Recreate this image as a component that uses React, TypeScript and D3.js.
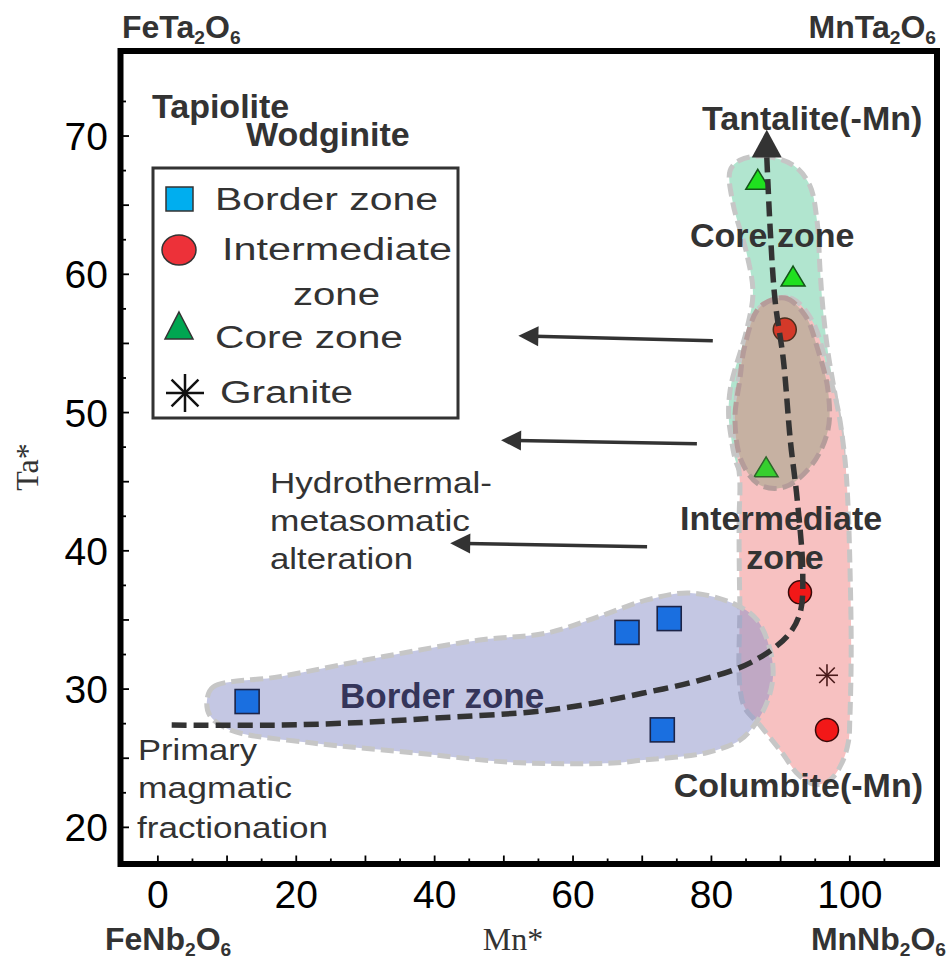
import React from "react";
import * as d3 from "d3";

// ---- chart data (Mn* = Mn/(Mn+Fe), Ta* = Ta/(Ta+Nb), atomic %) ----
const xTickLabels = [0, 20, 40, 60, 80, 100];
const yTickLabels = [20, 30, 40, 50, 60, 70];

const borderMn = [12.9, 67.8, 73.9, 72.9];
const borderTa = [29.1, 34.1, 35.1, 27.05];

const interMn = [90.6, 92.8, 96.7];
const interTa = [56.0, 37.0, 27.05];

const coreMn = [86.7, 91.8, 87.9];
const coreTa = [66.8, 59.8, 46.0];

const graniteMn = [96.7];
const graniteTa = [31.0];

// compositional fields (outline vertices, Mn*/Ta*)
const borderField: [number, number][] = [
  [7.1, 29.2], [8.0, 30.15], [17.6, 30.9], [32.1, 32.3], [46.5, 33.55], [56.2, 34.05],
  [63.5, 35.2], [70.7, 36.45], [76.9, 36.95], [83.1, 36.2], [86.6, 35.0], [88.5, 32.8],
  [88.9, 30.9], [88.0, 29.0], [86.0, 27.25], [84.1, 26.3], [79.3, 25.4], [69.7, 24.85],
  [65.8, 24.65], [51.3, 24.7], [36.9, 25.4], [22.4, 26.1], [10.4, 27.05], [7.5, 28.1],
];
const coreField: [number, number][] = [
  [84.1, 68.25], [87.4, 68.55], [91.8, 67.9], [94.2, 66.45], [95.25, 63.9], [95.7, 60.3],
  [96.1, 57.6], [96.8, 54.5], [98.0, 50.9], [99.0, 47.3], [98.6, 45.3], [92.8, 45.0],
  [84.9, 45.3], [82.7, 48.7], [82.7, 51.6], [85.1, 56.0], [86.0, 58.65], [85.1, 61.5],
  [83.1, 65.15], [82.7, 67.5],
];
const interField: [number, number][] = [
  [87.0, 57.6], [91.35, 58.3], [94.5, 56.7], [96.8, 53.1], [98.3, 50.2], [99.3, 46.6],
  [99.7, 43.7], [100.0, 39.3], [100.2, 32.8], [100.0, 27.8], [99.8, 26.2], [98.8, 24.6],
  [97.1, 23.4], [95.0, 23.1], [92.6, 23.8], [90.2, 25.4], [87.0, 27.4], [84.6, 28.9],
  [84.1, 36.4], [84.0, 42.2], [84.1, 45.1], [83.5, 48.0], [83.7, 51.6], [85.0, 54.9],
];
const overlapField: [number, number][] = [
  [87.0, 57.63], [90.6, 58.28], [93.5, 57.05], [95.4, 54.52], [96.84, 51.63], [96.84, 48.74],
  [94.5, 46.21], [90.6, 44.62], [87.0, 44.76], [84.4, 46.42], [83.4, 49.46], [84.1, 52.35],
  [84.85, 54.88],
];

// evolution trend: primary magmatic fractionation -> Ta enrichment
const trendMn = [2, 18, 30, 40, 54, 62, 70, 78, 85.6, 90.9, 92.8, 93.2, 92.4, 91.4, 90.4, 89.2, 88.5, 88.0];
const trendTa = [27.4, 27.4, 27.6, 27.9, 28.35, 28.9, 29.7, 30.6, 31.9, 33.8, 35.5, 38.4, 43.7, 48.0, 53.8, 58.1, 63.2, 68.5];
const trendHead = { mn: 88.0, taTip: 70.45, taBase: 68.45 };

// hydrothermal-metasomatic alteration arrows (from -> to)
const alterFromMn = [80.2, 77.9, 70.7];
const alterFromTa = [55.2, 47.75, 40.3];
const alterToMn = [52.1, 49.6, 42.25];
const alterToTa = [55.55, 48.0, 40.55];

// ---- layout ----
const W = 950;
const H = 960;
const frame = { left: 120.5, top: 51, right: 937, bottom: 864 };
const mnDomain: [number, number] = [-5.4, 112.6];
const taDomain: [number, number] = [17.35, 76.15];

const SANS = "'Liberation Sans', Arial, Helvetica, sans-serif";
const SERIF = "'Liberation Serif', 'Times New Roman', serif";
const INK = "#333333";

const x = d3.scaleLinear().domain(mnDomain).range([frame.left, frame.right]);
const y = d3.scaleLinear().domain(taDomain).range([frame.bottom, frame.top]);

const fieldLine = d3
  .line<[number, number]>()
  .x((d) => x(d[0]))
  .y((d) => y(d[1]))
  .curve(d3.curveCatmullRomClosed.alpha(0.5));

const trendLine = d3
  .line<[number, number]>()
  .x((d) => x(d[0]))
  .y((d) => y(d[1]))
  .curve(d3.curveCatmullRom.alpha(0.5));

function Formula({ x0, y0, main, sub, anchor = "start", size = 32 }: any) {
  const s = size * 0.6;
  return (
    <text
      x={x0}
      y={y0}
      textAnchor={anchor}
      fontFamily={SANS}
      fontWeight="bold"
      fontSize={size}
      fill={INK}
    >
      {main[0]}
      <tspan fontSize={s} dy={6}>{sub[0]}</tspan>
      <tspan dy={-6}>{main[1]}</tspan>
      <tspan fontSize={s} dy={6}>{sub[1]}</tspan>
    </text>
  );
}

// wide-set lettering: glyphs stretched horizontally by sx, fitted to width w
function Stretch({ x0, y0, w, size, sx, children, fill = INK }: any) {
  return (
    <text
      transform={`translate(${x0},${y0}) scale(${sx},1)`}
      fontFamily={SANS}
      fontSize={size}
      fill={fill}
      textLength={w / sx}
      lengthAdjust="spacingAndGlyphs"
    >
      {children}
    </text>
  );
}

function Asterisk({ cx, cy, r, stroke, sw }: any) {
  const d = r * Math.SQRT1_2;
  return (
    <g stroke={stroke} strokeWidth={sw} strokeLinecap="butt">
      <line x1={cx} y1={cy - r} x2={cx} y2={cy + r} />
      <line x1={cx - r} y1={cy} x2={cx + r} y2={cy} />
      <line x1={cx - d} y1={cy - d} x2={cx + d} y2={cy + d} />
      <line x1={cx - d} y1={cy + d} x2={cx + d} y2={cy - d} />
    </g>
  );
}

function triPath(cx: number, cy: number, w: number, h: number) {
  return `M${cx},${cy - h * 0.55}L${cx + w / 2},${cy + h * 0.45}L${cx - w / 2},${cy + h * 0.45}Z`;
}

function arrowHead(tx: number, ty: number, fx: number, fy: number, len: number, half: number) {
  const a = Math.atan2(ty - fy, tx - fx);
  const bx = tx - len * Math.cos(a);
  const by = ty - len * Math.sin(a);
  const nx = -Math.sin(a) * half;
  const ny = Math.cos(a) * half;
  return `M${tx},${ty}L${bx + nx},${by + ny}L${bx - nx},${by - ny}Z`;
}

export default function App() {
  const xTicks = d3.range(0, 106, 5);
  const yTicks = d3.range(20, 73, 2.5);

  const fieldStroke = "#c6c6c6";
  const dash = "13 6";

  const trendPts: [number, number][] = trendMn.map((m, i) => [m, trendTa[i]]);

  return (
    <svg
      width={W}
      height={H}
      viewBox={`0 0 ${W} ${H}`}
      style={{ position: "absolute", left: 0, top: 0, background: "#fff" }}
    >
      {/* compositional fields */}
      <path d={fieldLine(coreField)!} fill="#b1e5cf" stroke={fieldStroke} strokeWidth={5} strokeDasharray={dash} />
      <path d={fieldLine(interField)!} fill="#f7c1c1" stroke={fieldStroke} strokeWidth={5} strokeDasharray={dash} />
      <path d={fieldLine(borderField)!} fill="#8a90c8" fillOpacity={0.5} stroke={fieldStroke} strokeWidth={5} strokeDasharray={dash} />
      <path d={fieldLine(overlapField)!} fill="#dfb9ba" stroke="none" />

      {/* samples */}
      {borderMn.map((m, i) => (
        <rect
          key={"b" + i}
          x={x(m) - 12}
          y={y(borderTa[i]) - 12}
          width={24}
          height={24}
          fill="#1a6fe0"
          stroke="#1c2448"
          strokeWidth={1.6}
        />
      ))}
      {interMn.map((m, i) => (
        <circle key={"i" + i} cx={x(m)} cy={y(interTa[i])} r={11.5} fill="#f21818" stroke="#3a0a0a" strokeWidth={1.5} />
      ))}
      {coreMn.map((m, i) => (
        <path key={"c" + i} d={triPath(x(m), y(coreTa[i]), 24, 20)} fill="#1fe01f" stroke="#14541a" strokeWidth={1.5} />
      ))}
      {graniteMn.map((m, i) => (
        <Asterisk key={"g" + i} cx={x(m)} cy={y(graniteTa[i])} r={11} stroke="#4a1a1a" sw={1.6} />
      ))}

      {/* overlap field drawn over its samples */}
      <path d={fieldLine(overlapField)!} fill="#7a9a5a" fillOpacity={0.25} stroke="#b59c9a" strokeWidth={5} strokeDasharray={dash} />

      {/* field labels */}
      <text x={152} y={118} fontFamily={SANS} fontWeight="bold" fontSize={34} fill={INK}>Tapiolite</text>
      <text x={246} y={146} fontFamily={SANS} fontWeight="bold" fontSize={34} fill={INK}>Wodginite</text>
      <text x={702} y={130} fontFamily={SANS} fontWeight="bold" fontSize={34} fill={INK}>Tantalite(-Mn)</text>
      <text x={690} y={247} fontFamily={SANS} fontWeight="bold" fontSize={34} fill={INK}>Core zone</text>
      <text x={680} y={530} fontFamily={SANS} fontWeight="bold" fontSize={34} fill={INK}>Intermediate</text>
      <text x={785} y={569} textAnchor="middle" fontFamily={SANS} fontWeight="bold" fontSize={34} fill={INK}>zone</text>
      <text x={923} y={797} textAnchor="end" fontFamily={SANS} fontWeight="bold" fontSize={34} fill={INK}>Columbite(-Mn)</text>
      <text x={340} y={708} fontFamily={SANS} fontWeight="bold" fontSize={35} fill="#35355a">Border zone</text>

      {/* annotations */}
      <Stretch x0={270} y0={493} w={222} size={30} sx={1.15}>Hydrothermal-</Stretch>
      <Stretch x0={270} y0={531} w={200} size={30} sx={1.15}>metasomatic</Stretch>
      <Stretch x0={270} y0={569} w={143} size={30} sx={1.15}>alteration</Stretch>
      <Stretch x0={138} y0={760} w={119} size={30} sx={1.12}>Primary</Stretch>
      <Stretch x0={138} y0={798} w={154} size={30} sx={1.12}>magmatic</Stretch>
      <Stretch x0={137} y0={838} w={191} size={30} sx={1.12}>fractionation</Stretch>

      {/* alteration arrows */}
      {alterFromMn.map((m, i) => {
        const fx = x(m), fy = y(alterFromTa[i]);
        const tx = x(alterToMn[i]), ty = y(alterToTa[i]);
        const a = Math.atan2(ty - fy, tx - fx);
        return (
          <g key={"a" + i}>
            <line x1={fx} y1={fy} x2={tx - 16 * Math.cos(a)} y2={ty - 16 * Math.sin(a)} stroke={INK} strokeWidth={3.5} />
            <path d={arrowHead(tx, ty, fx, fy, 20, 10)} fill={INK} />
          </g>
        );
      })}

      {/* evolution trend */}
      <path d={trendLine(trendPts)!} fill="none" stroke={INK} strokeWidth={5.5} strokeDasharray="15 7" />
      <path
        d={`M${x(trendHead.mn)},${y(trendHead.taTip)}L${x(trendHead.mn) + 15},${y(trendHead.taBase)}L${x(trendHead.mn) - 15},${y(trendHead.taBase)}Z`}
        fill={INK}
      />

      {/* legend */}
      <g>
        <rect x={153} y={168} width={305} height={250} fill="#fff" stroke={INK} strokeWidth={3} />
        <rect x={166} y={187} width={27} height={24} fill="#00aeef" stroke={INK} strokeWidth={1.5} />
        <Stretch x0={215} y0={210} w={223} size={31} sx={1.28}>Border zone</Stretch>
        <ellipse cx={179} cy={250} rx={17} ry={15} fill="#ed3139" stroke={INK} strokeWidth={1.5} />
        <Stretch x0={222} y0={260} w={230} size={31} sx={1.28}>Intermediate</Stretch>
        <Stretch x0={293} y0={305} w={87} size={31} sx={1.28}>zone</Stretch>
        <path d="M179,312L193,339L165,339Z" fill="#00a651" stroke={INK} strokeWidth={1.5} />
        <Stretch x0={215} y0={348} w={188} size={31} sx={1.28}>Core zone</Stretch>
        <Asterisk cx={185} cy={393} r={19} stroke="#111" sw={2.5} />
        <Stretch x0={220} y0={403} w={133} size={31} sx={1.28}>Granite</Stretch>
      </g>

      {/* axes: ticks point inward */}
      {xTicks.map((t) => (
        <line
          key={"xt" + t}
          x1={x(t)}
          x2={x(t)}
          y1={frame.bottom}
          y2={frame.bottom - (t % 10 === 0 ? 8.5 : 5.5)}
          stroke="#000"
          strokeWidth={1.8}
        />
      ))}
      {yTicks.map((t) => (
        <line
          key={"yt" + t}
          x1={frame.left}
          x2={frame.left + (t % 5 === 0 ? 8.5 : 5.5)}
          y1={y(t)}
          y2={y(t)}
          stroke="#000"
          strokeWidth={1.8}
        />
      ))}
      <rect
        x={frame.left}
        y={frame.top}
        width={frame.right - frame.left}
        height={frame.bottom - frame.top}
        fill="none"
        stroke="#000"
        strokeWidth={6}
      />
      {xTickLabels.map((t) => (
        <text key={"xl" + t} x={x(t)} y={908} textAnchor="middle" fontFamily={SANS} fontSize={39} fill="#000">
          {t}
        </text>
      ))}
      {yTickLabels.map((t) => (
        <text key={"yl" + t} x={108} y={y(t) + 14} textAnchor="end" fontFamily={SANS} fontSize={39} fill="#000">
          {t}
        </text>
      ))}

      {/* axis titles */}
      <text transform="translate(38,467) rotate(-90)" textAnchor="middle" fontFamily={SERIF} fontSize={32} fill={INK}>
        Ta*
      </text>
      <text x={513} y={950} textAnchor="middle" fontFamily={SERIF} fontSize={32} fill={INK}>
        Mn*
      </text>

      {/* end-member compositions */}
      <Formula x0={122} y0={38} main={["FeTa", "O"]} sub={["2", "6"]} />
      <Formula x0={936} y0={38} anchor="end" main={["MnTa", "O"]} sub={["2", "6"]} />
      <Formula x0={105} y0={950} main={["FeNb", "O"]} sub={["2", "6"]} />
      <Formula x0={946} y0={950} anchor="end" main={["MnNb", "O"]} sub={["2", "6"]} />
    </svg>
  );
}
